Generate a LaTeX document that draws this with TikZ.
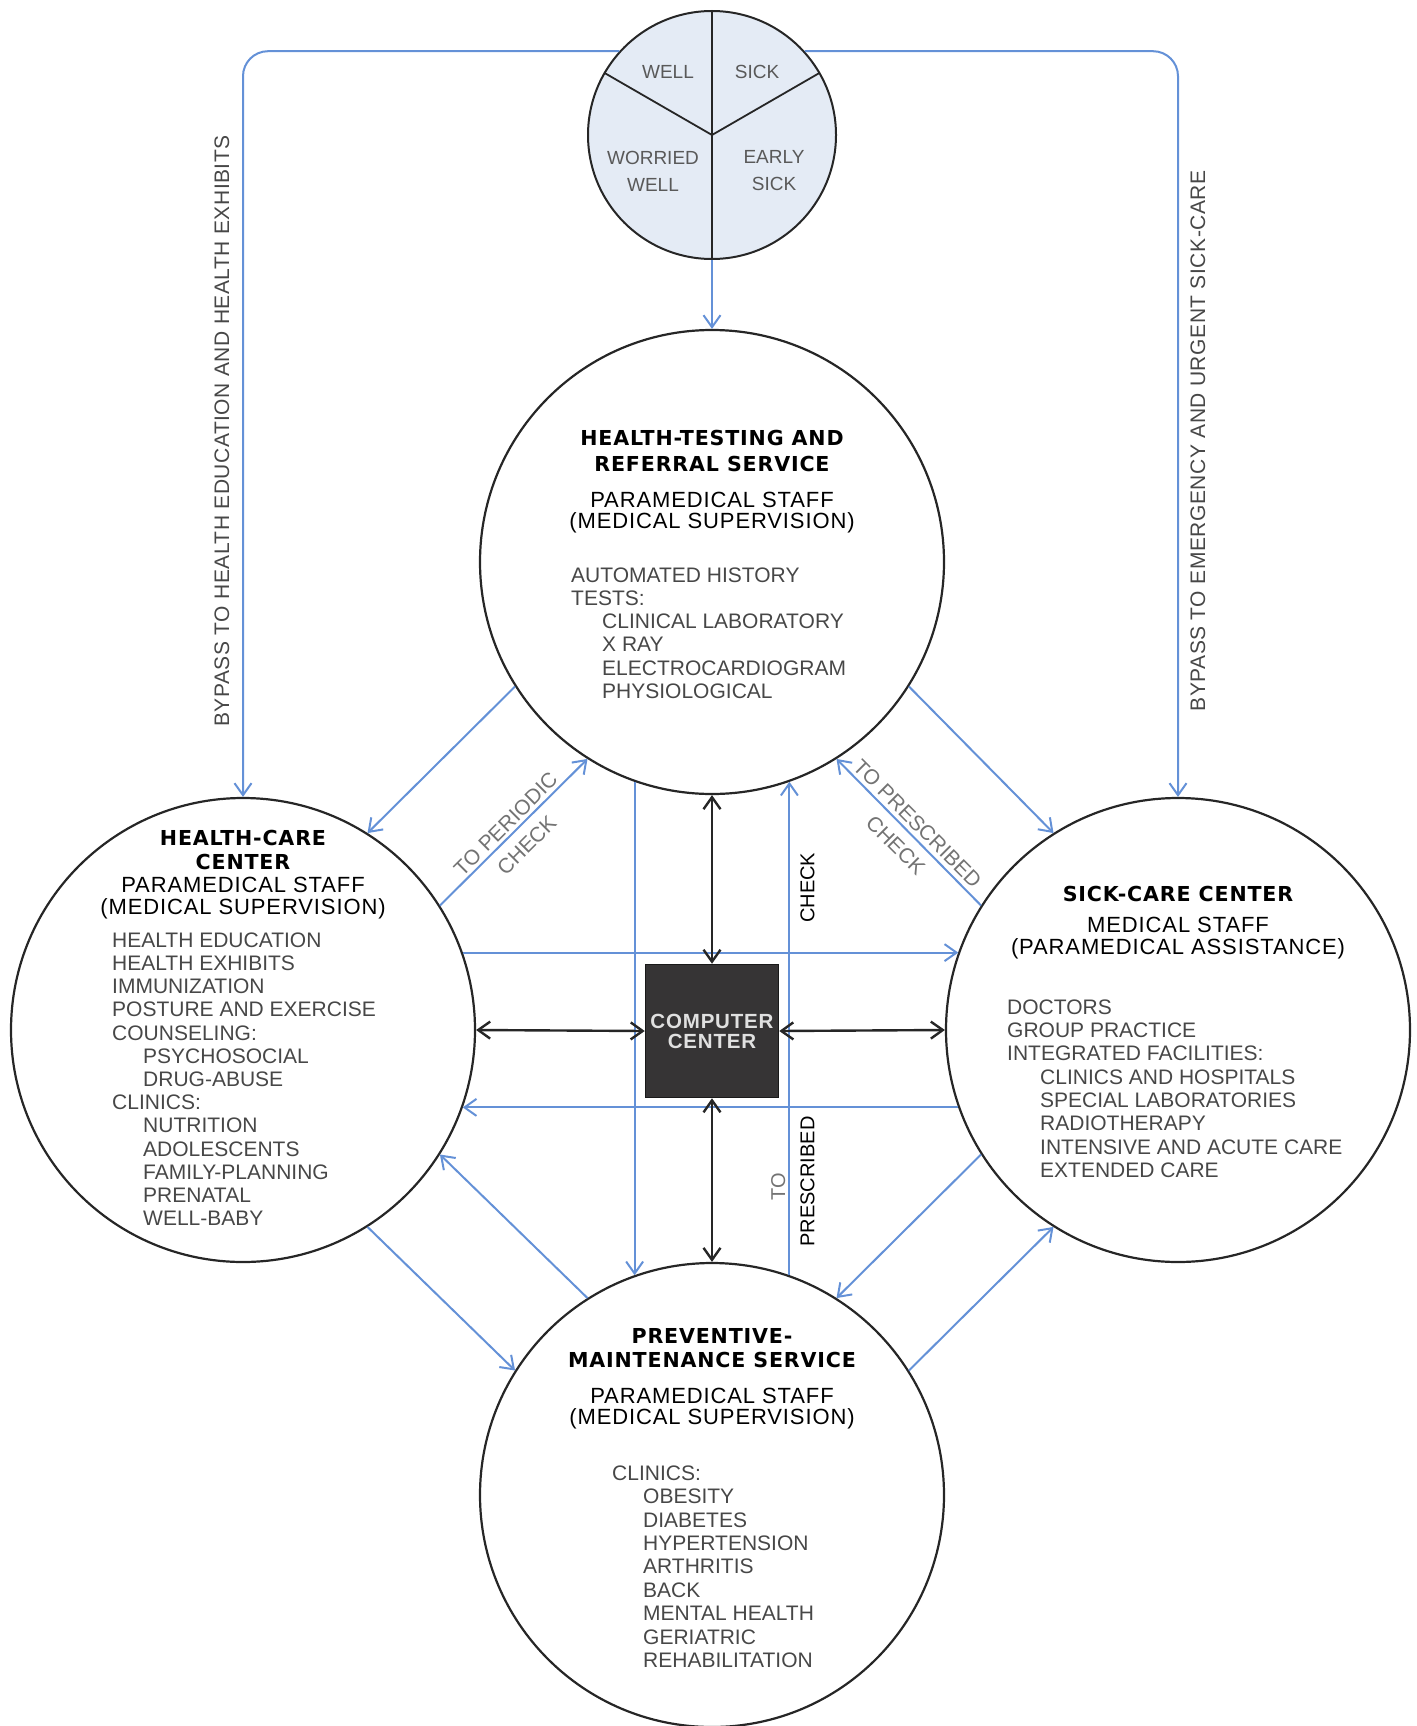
\documentclass[tikz,border=0pt]{standalone}
\usepackage{fontspec}
\setmainfont{Liberation Sans}
\newfontfamily\headfont[LetterSpace=4]{DejaVu Sans}
\newfontfamily\stafffont[LetterSpace=4]{Liberation Sans}
\newfontfamily\bypassfont[LetterSpace=2.5]{Liberation Sans}
\usetikzlibrary{arrows.meta,calc}
\definecolor{lineblue}{HTML}{6491D7}
\definecolor{palefill}{HTML}{E4EBF5}
\definecolor{boxfill}{HTML}{363435}
\newcommand{\indt}{\hspace*{31pt}}

\tikzset{
	service/.style={circle,draw=black!85,line width=2.2pt,minimum size=464pt,inner sep=0pt},
	bluearr/.style={draw=lineblue,line width=2pt,-{Straight Barb[length=12pt,width=17pt]}},
	blackarr/.style={draw=black!85,line width=2.4pt,{Straight Barb[length=12pt,width=17pt]}-{Straight Barb[length=12pt,width=17pt]}},
	headtxt/.style={font=\headfont\bfseries\fontsize{20.6}{24}\selectfont,align=center,anchor=north,inner sep=0pt},
	stafftxt/.style={font=\stafffont\fontsize{22}{21.6}\selectfont,align=center,anchor=north,inner sep=0pt},
	bodytxt/.style={font=\fontsize{21}{23.2}\selectfont,align=left,anchor=north west,inner sep=0pt,text=black!72},
	labeltxt/.style={font=\fontsize{21}{23}\selectfont,text=black!55},
	vlabel/.style={font=\fontsize{20}{22}\selectfont,rotate=90},
	bypasstxt/.style={font=\bypassfont\fontsize{21}{23}\selectfont,rotate=90,text=black!72}
}

\begin{document}
\begin{tikzpicture}[x=1pt,y=-1pt]
		\useasboundingbox (0,0) rectangle (1416,1726);
		
		% Circles
		\node[circle,draw=black!85,line width=2pt,fill=palefill,minimum size=248pt,inner sep=0pt] (pop) at (712,135) {};
		\draw[line width=1.8pt,black!85] (pop.center) -- (pop.north);
		\draw[line width=1.8pt,black!85] (pop.center) -- ($(pop)+(210:124)$);
		\draw[line width=1.8pt,black!85] (pop.center) -- ($(pop)+(330:124)$);
		\draw[line width=1.8pt,black!85] (pop.center) -- (pop.south);
		\node[service] (htest) at (712,562) {};
		\node[service] (hcare) at (243,1030) {};
		\node[service] (scare) at (1178,1030) {};
		\node[service] (pmain) at (712,1495) {};
		
		% Bypass lines
		\draw[bluearr,rounded corners=25pt] ($(pop)+(222.1:125)$) -| (hcare.north);
		\draw[bluearr,rounded corners=25pt] ($(pop)+(317.9:125)$) -| (scare.north);
		\draw[bluearr] (pop.south) -- (htest.north);
		\node[bypasstxt] (bpleft) at (222,431) {BYPASS TO HEALTH EDUCATION AND HEALTH EXHIBITS};
		\node[bypasstxt] (bpright) at (1198,441) {BYPASS TO EMERGENCY AND URGENT SICK-CARE};
		
		% Diagonals
		\draw[bluearr] ($(htest)+(147.7:233)$) -- ($(hcare)+(302.3:233)$);
		\draw[bluearr] ($(hcare)+(327.7:233)$) -- ($(htest)+(122.3:233)$)
			node[labeltxt,pos=0.5,rotate=45,anchor=south,inner sep=3pt] (perA) {TO PERIODIC}
			node[labeltxt,pos=0.5,rotate=45,anchor=north,inner sep=10pt] (perB) {CHECK};
		\draw[bluearr] ($(htest)+(32.3:233)$) -- ($(scare)+(237.7:233)$);
		\draw[bluearr] ($(scare)+(212.3:233)$) -- ($(htest)+(57.7:233)$)
			node[labeltxt,pos=0.5,rotate=-45,anchor=south,inner sep=4pt] (preA) {TO PRESCRIBED}
			node[labeltxt,pos=0.5,rotate=-45,anchor=north,inner sep=10pt] (preB) {CHECK};
		\draw[bluearr] ($(hcare)+(57.7:233)$) -- ($(pmain)+(212.3:233)$);
		\draw[bluearr] ($(pmain)+(237.7:233)$) -- ($(hcare)+(32.3:233)$);
		\draw[bluearr] ($(scare)+(147.7:233)$) -- ($(pmain)+(302.3:233)$);
		\draw[bluearr] ($(pmain)+(327.7:233)$) -- ($(scare)+(122.3:233)$);
		
		% Straight lines
		\draw[bluearr] ($(htest)+(109.4:233)$) -- ($(pmain)+(250.6:233)$);
		\draw[bluearr] ($(pmain)+(289.4:233)$) -- ($(htest)+(70.6:233)$)
			node[vlabel,pos=0.18,anchor=south,inner sep=3pt,text=black!55] (vto) {TO}
			node[vlabel,pos=0.19,anchor=north,inner sep=10pt] (vpre) {PRESCRIBED}
			node[vlabel,pos=0.785,anchor=north,inner sep=10pt] (vchk) {CHECK};
		\draw[bluearr] ($(hcare)+(340.6:233)$) -- ($(scare)+(199.4:233)$);
		\draw[bluearr] ($(scare)+(160.6:233)$) -- ($(hcare)+(19.4:233)$);
		
		% Computer center
		\node[draw=black!90,line width=1.5pt,fill=boxfill,minimum size=133pt,inner sep=0pt,
			text=white!88!black,align=center,font=\stafffont\bfseries\fontsize{20.5}{20}\selectfont] (comp) at (712,1031) {COMPUTER\\CENTER};
		\draw[white,line width=20pt,shorten <=25pt,shorten >=25pt] (htest.south) -- (comp.north);
		\draw[white,line width=20pt,shorten <=25pt,shorten >=25pt] (comp.south) -- (pmain.north);
		\draw[blackarr] (htest.south) -- (comp.north);
		\draw[blackarr] (comp.south) -- (pmain.north);
		\draw[blackarr] (hcare.east) -- (comp.west);
		\draw[blackarr] (comp.east) -- (scare.west);
		
		% Population
		\node[font=\fontsize{19}{21}\selectfont,text=black!65] (well) at (668,72) {WELL};
		\node[font=\fontsize{19}{21}\selectfont,text=black!65] (sick) at (757,72) {SICK};
		\node[font=\fontsize{19}{27}\selectfont,text=black!65,align=center] (wwell) at (653,171) {WORRIED\\WELL};
		\node[font=\fontsize{19}{27}\selectfont,text=black!65,align=center] (esick) at (774,171) {EARLY\\SICK};
		
		% Health-testing
		\node[headtxt,font=\headfont\bfseries\fontsize{20.6}{26.5}\selectfont] (htestA) at (712,430) {HEALTH-TESTING AND\\REFERRAL SERVICE};
		\node[stafftxt] (htestB) at (712,491.5) {PARAMEDICAL STAFF\\(MEDICAL SUPERVISION)};
		\node[bodytxt] (htestC) at (571,567.5) {AUTOMATED HISTORY\\TESTS:\\\indt CLINICAL LABORATORY\\\indt X RAY\\\indt ELECTROCARDIOGRAM\\\indt PHYSIOLOGICAL};
		
		% Health-care
		\node[headtxt] (hcareA) at (243,830) {HEALTH-CARE\\CENTER};
		\node[stafftxt] (hcareB) at (243,877) {PARAMEDICAL STAFF\\(MEDICAL SUPERVISION)};
		\node[bodytxt] (hcareC) at (112,932.5) {HEALTH EDUCATION\\HEALTH EXHIBITS\\IMMUNIZATION\\POSTURE AND EXERCISE\\COUNSELING:\\\indt PSYCHOSOCIAL\\\indt DRUG-ABUSE\\CLINICS:\\\indt NUTRITION\\\indt ADOLESCENTS\\\indt FAMILY-PLANNING\\\indt PRENATAL\\\indt WELL-BABY};
		
		% Sick-care
		\node[headtxt] (scareA) at (1178,885.5) {SICK-CARE CENTER};
		\node[stafftxt,font=\stafffont\fontsize{22}{22}\selectfont] (scareB) at (1178,917) {MEDICAL STAFF\\(PARAMEDICAL ASSISTANCE)};
		\node[bodytxt,font=\fontsize{21}{23.3}\selectfont] (scareC) at (1007,999.5) {DOCTORS\\GROUP PRACTICE\\INTEGRATED FACILITIES:\\\hspace*{33pt}CLINICS AND HOSPITALS\\\hspace*{33pt}SPECIAL LABORATORIES\\\hspace*{33pt}RADIOTHERAPY\\\hspace*{33pt}INTENSIVE AND ACUTE CARE\\\hspace*{33pt}EXTENDED CARE};
		
		% Preventive
		\node[headtxt] (pmainA) at (712,1328.5) {PREVENTIVE-\\MAINTENANCE SERVICE};
		\node[stafftxt,font=\stafffont\fontsize{22}{21}\selectfont] (pmainB) at (712,1388) {PARAMEDICAL STAFF\\(MEDICAL SUPERVISION)};
		\node[bodytxt,font=\fontsize{21}{23.4}\selectfont] (pmainC) at (612,1465.5) {CLINICS:\\\indt OBESITY\\\indt DIABETES\\\indt HYPERTENSION\\\indt ARTHRITIS\\\indt BACK\\\indt MENTAL HEALTH\\\indt GERIATRIC\\\indt REHABILITATION};
\end{tikzpicture}
\end{document}
